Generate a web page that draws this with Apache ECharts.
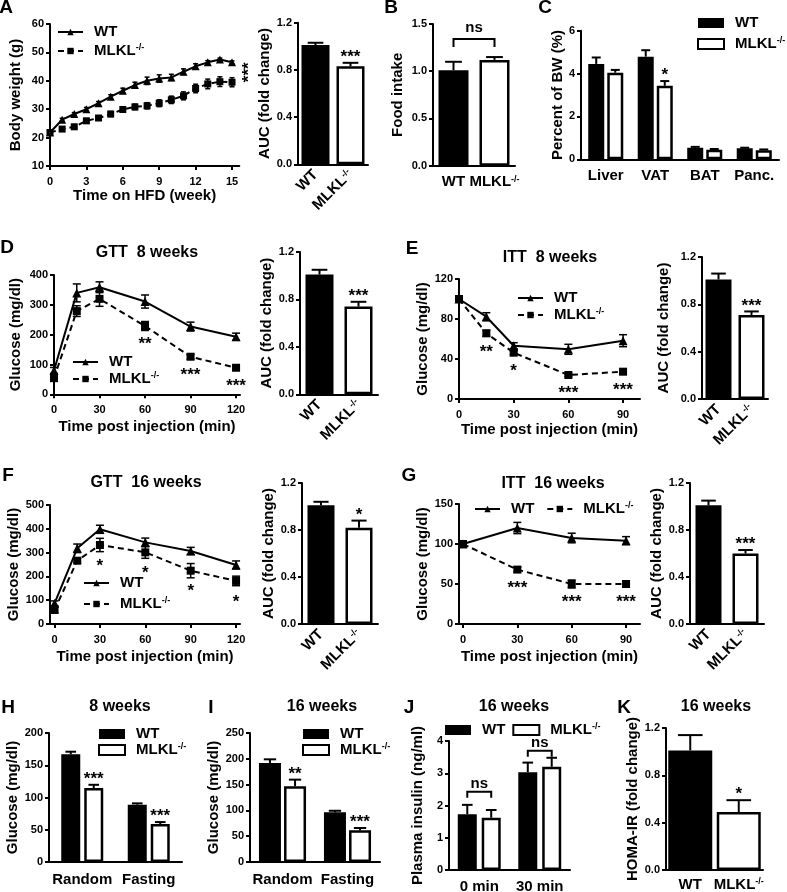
<!DOCTYPE html>
<html>
<head>
<meta charset="utf-8">
<title>MLKL HFD metabolic phenotype</title>
<script src="https://cdn.jsdelivr.net/npm/echarts@6.0.0/dist/echarts.min.js"></script>
<style>
html,body{margin:0;padding:0;background:#fff;}
#chart{width:787px;height:892px;}
</style>
</head>
<body>
<div id="chart"></div>
<script>
// ================= DATA =================
const weeks    = [0,1,2,3,4,5,6,7,8,9,10,11,12,13,14,15];
const bwWT     = [21.8,26.3,28.3,30.0,32.1,34.4,36.5,38.5,40.0,40.8,41.2,43.2,45.1,46.5,47.5,46.5];
const bwWTErr  = [0.5,0.5,0.5,0.6,0.6,0.7,0.9,1.0,1.3,1.3,1.1,1.0,0.9,0.6,0.5,0.5];
const bwKO     = [21.8,23.0,23.8,25.9,26.9,28.3,29.9,30.8,31.2,32.1,33.3,34.7,37.3,38.9,39.7,39.5];
const bwKOErr  = [0.6,0.7,0.8,0.8,0.8,0.9,0.9,1.0,1.1,1.2,1.3,1.4,1.5,1.7,1.7,1.6];
const bwSig    = '***';

const genotypes = ['WT','MLKL'];
const aucBW     = [1.01,0.83];
const aucBWErr  = [0.02,0.03];
const aucBWSig  = ['','***'];

const food      = [1.01,1.12];
const foodErr   = [0.09,0.03];
const foodSig   = 'ns';

const organs      = ['Liver','VAT','BAT','Panc.'];
const organWT     = [4.45,4.79,0.54,0.51];
const organWTErr  = [0.30,0.30,0.04,0.03];
const organKO     = [4.04,3.43,0.44,0.42];
const organKOErr  = [0.13,0.22,0.04,0.04];
const organSig    = ['','*','',''];

const gttTimes    = [0,15,30,60,90,120];
const gtt8WT      = [80,340,359,311,227,193];
const gtt8WTErr   = [10,30,18,22,15,12];
const gtt8KO      = [54,279,320,229,126,89];
const gtt8KOErr   = [6,18,25,15,8,5];
const gtt8Sig     = ['','','','**','***','***'];
const gtt8Auc     = [1.01,0.74];
const gtt8AucErr  = [0.04,0.04];
const gtt8AucSig  = ['','***'];

const itt8Times   = [0,15,30,60,90];
const itt8WT      = [100,82.3,53.3,49.7,58.3];
const itt8WTErr   = [2,4,3,5,6];
const itt8KO      = [100,65.7,46.3,24,27.3];
const itt8KOErr   = [2,3,2,1.5,1.5];
const itt8Sig     = ['','**','*','***','***'];
const itt8Auc     = [1.01,0.71];
const itt8AucErr  = [0.05,0.03];
const itt8AucSig  = ['','***'];

const gtt16WT     = [87,318,398,343,307,248];
const gtt16WTErr  = [10,18,17,18,15,17];
const gtt16KO     = [59,266,332,301,224,181];
const gtt16KOErr  = [12,10,28,25,30,20];
const gtt16Sig    = ['','','*','*','*','*'];
const gtt16Auc    = [1.01,0.82];
const gtt16AucErr = [0.03,0.06];
const gtt16AucSig = ['','*'];

const itt16Times  = [0,30,60,90];
const itt16WT     = [100,120,107.5,104.2];
const itt16WTErr  = [2,7,6,5];
const itt16KO     = [100,68,50,50];
const itt16KOErr  = [2,3,5,4];
const itt16Sig    = ['','***','***','***'];
const itt16Auc    = [1.01,0.60];
const itt16AucErr = [0.04,0.03];
const itt16AucSig = ['','***'];

const glucoseConds = ['Random','Fasting'];
const glu8WT      = [167,88.9];
const glu8WTErr   = [4,2];
const glu8KO      = [114.7,58.9];
const glu8KOErr   = [5,3];
const glu8Sig     = ['***','***'];
const glu16WT     = [192,96.3];
const glu16WTErr  = [7,3];
const glu16KO     = [146.6,61.4];
const glu16KOErr  = [13,4.5];
const glu16Sig    = ['**','***'];

const insulinConds = ['0 min','30 min'];
const insWT       = [1.73,3.03];
const insWTErr    = [0.29,0.30];
const insKO       = [1.62,3.20];
const insKOErr    = [0.24,0.28];
const insSig      = ['ns','ns'];

const homa        = [1.01,0.49];
const homaErr     = [0.13,0.10];
const homaSig     = ['','*'];

// ================= HELPERS =================
const FONT = '"Liberation Sans", Arial, Helvetica, sans-serif';
const TXT = {color:'#000', fontFamily:FONT, fontWeight:'bold'};
const SUP = {color:'#000', fontFamily:FONT, fontWeight:'bold', fontSize:9, verticalAlign:'top', lineHeight:10};
const RICH = {sup: SUP};
const BLACKBAR = {color:'#000', borderColor:'#000', borderWidth:2};
const WHITEBAR = {color:'#fff', borderColor:'#000', borderWidth:2.5};
const fmtName = v => (String(v).indexOf('MLKL') === 0 ? 'MLKL{sup|-/-}' : String(v).split('·')[0]);

const grids = [], xAxes = [], yAxes = [], series = [], legends = [], graphics = [];

function addPanel(rect, x, y) {
  const i = grids.length;
  grids.push(Object.assign({containLabel:false, outerBoundsMode:'none'}, rect));
  xAxes.push(Object.assign({gridIndex:i}, x));
  yAxes.push(Object.assign({gridIndex:i}, y));
  return i;
}
function axLine() { return {show:true, onZero:false, lineStyle:{color:'#000', width:2}}; }
function valueX(min, max, ticks, name, nameGap) {
  return {type:'value', min, max, name, nameLocation:'middle', nameGap,
    nameTextStyle:Object.assign({}, TXT, {fontSize:15}),
    axisLine:axLine(),
    axisTick:{show:true, length:4, customValues:ticks, lineStyle:{color:'#000', width:2}},
    axisLabel:Object.assign({}, TXT, {fontSize:11, margin:10, customValues:ticks}),
    splitLine:{show:false}};
}
function valueY(min, max, interval, name, nameGap, fmt) {
  return {type:'value', min, max, interval, name, nameLocation:'middle', nameGap, nameRotate:90,
    nameTextStyle:Object.assign({}, TXT, {fontSize:15}),
    axisLine:axLine(),
    axisTick:{show:true, length:4, lineStyle:{color:'#000', width:2}},
    axisLabel:Object.assign({}, TXT, {fontSize:11, margin:6, formatter:fmt}),
    splitLine:{show:false}};
}
function catX(cats, margin, rotate) {
  return {type:'category', data:cats,
    axisLine:axLine(), axisTick:{show:false},
    axisLabel:Object.assign({}, TXT, {fontSize:15, margin, rotate:rotate||0, interval:0,
      formatter:fmtName, rich:RICH}),
    splitLine:{show:false}};
}
function barOffset(i, n, w, gapPct) {
  const g = w * gapPct / 100;
  const total = n * w + (n - 1) * g;
  return -total / 2 + w / 2 + i * (w + g);
}
function txtStyle(text, size) {
  return {text, font:'bold ' + size + 'px ' + FONT, fill:'#000',
    textAlign:'center', textVerticalAlign:'middle', align:'center', verticalAlign:'middle'};
}
function errXY(ax, xs, ys, es, capW) {
  return {type:'custom', xAxisIndex:ax, yAxisIndex:ax, silent:true, z:3, encode:{x:0, y:1},
    data: xs.map((x, i) => [x, ys[i], es[i]]),
    renderItem:(p, api) => {
      const x = api.value(0), y = api.value(1), e = api.value(2);
      const hi = api.coord([x, y + e]), lo = api.coord([x, y - e]);
      const s = () => ({stroke:'#000', lineWidth:1.5});
      return {type:'group', children:[
        {type:'line', shape:{x1:hi[0], y1:hi[1], x2:lo[0], y2:lo[1]}, style:s()},
        {type:'line', shape:{x1:hi[0]-capW, y1:hi[1], x2:hi[0]+capW, y2:hi[1]}, style:s()},
        {type:'line', shape:{x1:lo[0]-capW, y1:lo[1], x2:lo[0]+capW, y2:lo[1]}, style:s()}]};
    }};
}
function errCat(ax, vals, errs, off, capW) {
  return {type:'custom', xAxisIndex:ax, yAxisIndex:ax, silent:true, z:3, encode:{x:0, y:1},
    data: vals.map((v, k) => [k, v, errs[k]]),
    renderItem:(p, api) => {
      const k = api.value(0), v = api.value(1), e = api.value(2);
      const top = api.coord([k, v]), hi = api.coord([k, v + e]);
      const x = top[0] + off;
      const s = () => ({stroke:'#000', lineWidth:2});
      return {type:'group', children:[
        {type:'line', shape:{x1:x, y1:top[1], x2:x, y2:hi[1]}, style:s()},
        {type:'line', shape:{x1:x-capW, y1:hi[1], x2:x+capW, y2:hi[1]}, style:s()}]};
    }};
}
function sigCat(ax, vals, errs, texts, off) {
  return {type:'custom', xAxisIndex:ax, yAxisIndex:ax, silent:true, z:6, encode:{x:0, y:1},
    data: vals.map((v, k) => [k, v + errs[k]]),
    renderItem:(p, api) => {
      const t = texts[p.dataIndex];
      if (!t) return null;
      const c = api.coord([api.value(0), api.value(1)]);
      return {type:'text', x:c[0] + off, y:c[1] - 5.5, style:txtStyle(t, 17)};
    }};
}
function sigXY(ax, xs, ys, texts, dy) {
  return {type:'custom', xAxisIndex:ax, yAxisIndex:ax, silent:true, z:6, encode:{x:0, y:1},
    data: xs.map((x, i) => [x, ys[i]]),
    renderItem:(p, api) => {
      const t = texts[p.dataIndex];
      if (!t) return null;
      const c = api.coord([api.value(0), api.value(1)]);
      return {type:'text', x:c[0], y:c[1] + dy, style:txtStyle(t, 17)};
    }};
}
function bracket(ax, catA, offA, catB, offB, ref, gap, tick, textGap, text) {
  return {type:'custom', xAxisIndex:ax, yAxisIndex:ax, silent:true, z:6, encode:{x:0, y:2},
    data:[[catA, catB, ref]],
    renderItem:(p, api) => {
      const a = api.coord([api.value(0), api.value(2)]);
      const b = api.coord([api.value(1), api.value(2)]);
      const y = a[1] - gap, x1 = a[0] + offA, x2 = b[0] + offB;
      return {type:'group', children:[
        {type:'polyline', shape:{points:[[x1, y + tick], [x1, y], [x2, y], [x2, y + tick]]},
          style:{stroke:'#000', lineWidth:2, fill:null}},
        {type:'text', x:(x1 + x2) / 2, y:y - textGap, style:txtStyle(text, 15)}]};
    }};
}
function linePanel(ax, key, xs, wt, wtE, ko, koE, sym, cap) {
  series.push({type:'line', name:'WT·' + key, xAxisIndex:ax, yAxisIndex:ax,
    data: xs.map((x, i) => [x, wt[i]]), symbol:'triangle', symbolSize:sym + 1, showSymbol:true,
    lineStyle:{color:'#000', width:2}, itemStyle:{color:'#000'}, z:5, silent:true});
  series.push({type:'line', name:'MLKL·' + key, xAxisIndex:ax, yAxisIndex:ax,
    data: xs.map((x, i) => [x, ko[i]]), symbol:'rect', symbolSize:sym, showSymbol:true,
    lineStyle:{color:'#000', width:2, type:[6, 4]}, itemStyle:{color:'#000'}, z:4, silent:true});
  series.push(errXY(ax, xs, wt, wtE, cap));
  series.push(errXY(ax, xs, ko, koE, cap));
}
function pairBars(ax, vals, errs, w) {
  series.push({type:'bar', xAxisIndex:ax, yAxisIndex:ax, barWidth:w, silent:true,
    data: vals.map((v, i) => ({value:v, itemStyle: i === 0 ? BLACKBAR : WHITEBAR}))});
  series.push(errCat(ax, vals, errs, 0, w * 0.28));
}
function groupBars(ax, key, wt, wtE, ko, koE, w, gapPct) {
  series.push({type:'bar', name:'WT·' + key, xAxisIndex:ax, yAxisIndex:ax, barWidth:w,
    barGap:gapPct + '%', itemStyle:BLACKBAR, data:wt, silent:true});
  series.push({type:'bar', name:'MLKL·' + key, xAxisIndex:ax, yAxisIndex:ax, barWidth:w,
    barGap:gapPct + '%', itemStyle:WHITEBAR, data:ko, silent:true});
  series.push(errCat(ax, wt, wtE, barOffset(0, 2, w, gapPct), w * 0.28));
  series.push(errCat(ax, ko, koE, barOffset(1, 2, w, gapPct), w * 0.28));
}
function legendText() {
  return Object.assign({}, TXT, {fontSize:15, lineHeight:16, padding:[0, 0, 0, 6], rich:RICH});
}
function lineLegend(key, left, top, orient, itemGap) {
  legends.push({data:['WT·' + key, 'MLKL·' + key], left, top, orient, itemGap, padding:0,
    itemWidth:25, itemHeight:8, formatter:fmtName, textStyle:legendText(), selectedMode:false});
}
function barLegend(key, left, top, orient, itemGap) {
  legends.push({data:[
      {name:'WT·' + key, icon:'rect', itemStyle:{color:'#000', borderWidth:0}},
      {name:'MLKL·' + key, icon:'rect', itemStyle:{color:'#fff', borderColor:'#000', borderWidth:2}}],
    left, top, orient, itemGap, padding:0, itemWidth:26, itemHeight:10,
    formatter:fmtName, textStyle:legendText(), selectedMode:false});
}
const maxTop = (v, e) => Math.max.apply(null, v.map((x, i) => x + e[i]));
const f1 = v => v.toFixed(1);
const f0 = v => String(v);

// ================= PANELS =================
// A - body weight
let ax = addPanel({left:50, top:24, width:189.3, height:142},
  valueX(0, 15.6, [0,3,6,9,12,15], 'Time on HFD (week)', 22),
  valueY(10, 60, 10, 'Body weight (g)', 27, f0));
linePanel(ax, 'A', weeks, bwWT, bwWTErr, bwKO, bwKOErr, 7, 2.5);
lineLegend('A', 57, 24, 'vertical', 3);
series.push({type:'custom', xAxisIndex:ax, yAxisIndex:ax, silent:true, z:6, encode:{x:0, y:1},
  data:[[weeks[weeks.length - 1], (bwWT[bwWT.length - 1] + bwKO[bwKO.length - 1]) / 2]],
  renderItem:(p, api) => {
    const c = api.coord([api.value(0), api.value(1)]);
    return {type:'text', x:c[0] + 17, y:c[1], rotation:Math.PI / 2, style:txtStyle(bwSig, 17)};
  }});

// A - AUC
ax = addPanel({left:298, top:22.7, width:70, height:141.6},
  catX(genotypes, 8, 45), valueY(0, 1.2, 0.4, 'AUC (fold change)', 19, f1));
pairBars(ax, aucBW, aucBWErr, 28);
series.push(sigCat(ax, aucBW, aucBWErr, aucBWSig, 0));

// B - food intake
ax = addPanel({left:433, top:24, width:82, height:141.7},
  catX(genotypes, 9, 0), valueY(0, 1.5, 0.5, 'Food intake', 28, f1));
pairBars(ax, food, foodErr, 30);
series.push(bracket(ax, 0, 0, 1, 0, maxTop(food, foodErr), 18, 8, 11.5, foodSig));

// C - organ weights
ax = addPanel({left:581, top:30.7, width:198, height:128.6},
  catX(organs, 9, 0), valueY(0, 6, 2, 'Percent of BW (%)', 12, f0));
groupBars(ax, 'C', organWT, organWTErr, organKO, organKOErr, 16, 19);
series.push(sigCat(ax, organKO, organKOErr, organSig, barOffset(1, 2, 16, 19)));
barLegend('C', 697, 15, 'vertical', 5);

// D - GTT 8 weeks
ax = addPanel({left:54, top:275, width:186, height:119.3},
  valueX(0, 122.6, [0,30,60,90,120], 'Time post injection (min)', 25),
  valueY(0, 400, 100, 'Glucose (mg/dl)', 31, f0));
linePanel(ax, 'D', gttTimes, gtt8WT, gtt8WTErr, gtt8KO, gtt8KOErr, 8, 4);
series.push(sigXY(ax, gttTimes, gtt8KO, gtt8Sig, 18.6));
lineLegend('D', 72, 354, 'vertical', 1);

ax = addPanel({left:300, top:252, width:78, height:142.3},
  catX(genotypes, 8, 45), valueY(0, 1.2, 0.4, 'AUC (fold change)', 18, f1));
pairBars(ax, gtt8Auc, gtt8AucErr, 28);
series.push(sigCat(ax, gtt8Auc, gtt8AucErr, gtt8AucSig, 0));

// E - ITT 8 weeks
ax = addPanel({left:459, top:279, width:181, height:120},
  valueX(0, 99.3, [0,30,60,90], 'Time post injection (min)', 23),
  valueY(0, 120, 40, 'Glucose (mg/dl)', 29, f0));
linePanel(ax, 'E', itt8Times, itt8WT, itt8WTErr, itt8KO, itt8KOErr, 8, 4);
series.push(sigXY(ax, itt8Times, itt8KO, itt8Sig, 18.6));
lineLegend('E', 517, 290, 'vertical', 1);

ax = addPanel({left:702, top:257, width:66, height:142},
  catX(genotypes, 8, 45), valueY(0, 1.2, 0.4, 'AUC (fold change)', 31, f1));
pairBars(ax, itt8Auc, itt8AucErr, 26);
series.push(sigCat(ax, itt8Auc, itt8AucErr, itt8AucSig, 0));

// F - GTT 16 weeks
ax = addPanel({left:50, top:505, width:190, height:119},
  valueX(-3, 122.6, [0,30,60,90,120], 'Time post injection (min)', 25),
  valueY(0, 500, 100, 'Glucose (mg/dl)', 27, f0));
linePanel(ax, 'F', gttTimes, gtt16WT, gtt16WTErr, gtt16KO, gtt16KOErr, 8, 4);
series.push(sigXY(ax, gttTimes, gtt16KO, gtt16Sig, 21));
lineLegend('F', 83, 575, 'vertical', 5);

ax = addPanel({left:302, top:483, width:76, height:141},
  catX(genotypes, 8, 45), valueY(0, 1.2, 0.4, 'AUC (fold change)', 20, f1));
pairBars(ax, gtt16Auc, gtt16AucErr, 27);
series.push(sigCat(ax, gtt16Auc, gtt16AucErr, gtt16AucSig, 0));

// G - ITT 16 weeks
ax = addPanel({left:459, top:504, width:181, height:120},
  valueX(-2.2, 97.7, [0,30,60,90], 'Time post injection (min)', 25),
  valueY(0, 150, 50, 'Glucose (mg/dl)', 29, f0));
linePanel(ax, 'G', itt16Times, itt16WT, itt16WTErr, itt16KO, itt16KOErr, 8, 4);
series.push(sigXY(ax, itt16Times, itt16KO, itt16Sig, 18.6));
lineLegend('G', 474, 501, 'horizontal', 12);

ax = addPanel({left:690, top:483, width:74, height:141},
  catX(genotypes, 8, 45), valueY(0, 1.2, 0.4, 'AUC (fold change)', 19, f1));
pairBars(ax, itt16Auc, itt16AucErr, 26);
series.push(sigCat(ax, itt16Auc, itt16AucErr, itt16AucSig, 0));

// H - glucose 8 weeks
ax = addPanel({left:49, top:733, width:133, height:129},
  catX(glucoseConds, 10, 0), valueY(0, 200, 50, 'Glucose (mg/dl)', 25, f0));
groupBars(ax, 'H', glu8WT, glu8WTErr, glu8KO, glu8KOErr, 19, 21);
series.push(sigCat(ax, glu8KO, glu8KOErr, glu8Sig, barOffset(1, 2, 19, 21)));
barLegend('H', 98, 726, 'vertical', 0);

// I - glucose 16 weeks
ax = addPanel({left:250, top:733, width:130, height:129},
  catX(glucoseConds, 10, 0), valueY(0, 250, 50, 'Glucose (mg/dl)', 25, f0));
groupBars(ax, 'I', glu16WT, glu16WTErr, glu16KO, glu16KOErr, 22, 14);
series.push(sigCat(ax, glu16KO, glu16KOErr, glu16Sig, barOffset(1, 2, 22, 14)));
barLegend('I', 302, 726, 'vertical', 0);

// J - plasma insulin
ax = addPanel({left:449, top:741, width:121, height:129},
  catX(insulinConds, 9, 0), valueY(0, 4, 1, 'Plasma insulin (ng/ml)', 24, f0));
groupBars(ax, 'J', insWT, insWTErr, insKO, insKOErr, 19, 26);
[0, 1].forEach(k => {
  const ref = Math.max(insWT[k] + insWTErr[k], insKO[k] + insKOErr[k]);
  series.push(bracket(ax, k, barOffset(0, 2, 19, 26), k, barOffset(1, 2, 19, 26), ref,
    k === 0 ? 13 : 7, 6, 8, insSig[k]));
});
barLegend('J', 445, 722, 'horizontal', 7);

// K - HOMA-IR
ax = addPanel({left:666, top:728, width:97, height:142},
  catX(genotypes, 7, 0), valueY(0, 1.2, 0.4, 'HOMA-IR (fold change)', 26, f1));
pairBars(ax, homa, homaErr, 44);
series.push(sigCat(ax, homa, homaErr, homaSig, 0));

// ================= LETTERS & TITLES =================
[['A',6,8],['B',391,8],['C',545,8],['D',7,248],['E',412,249],['F',8,476],['G',409,476],
 ['H',8,708],['I',211,708],['J',409,708],['K',624,708]].forEach(([t, x, y]) => {
  graphics.push({type:'text', x, y, silent:true, style:txtStyle(t, 19)});
});
[['GTT  8 weeks',147,253],['ITT  8 weeks',550,258],['GTT  16 weeks',146,483],['ITT  16 weeks',553,484],
 ['8 weeks',120,707],['16 weeks',322,707],['16 weeks',514,707],['16 weeks',716,707]].forEach(([t, x, y]) => {
  graphics.push({type:'text', x, y, silent:true, style:txtStyle(t, 16)});
});

const chart = echarts.init(document.getElementById('chart'), null, {renderer:'canvas'});
chart.setOption({
  animation:false,
  backgroundColor:'#fff',
  grid:grids, xAxis:xAxes, yAxis:yAxes,
  legend:legends, series,
  graphic:{elements:graphics}
});
</script>
</body>
</html>
